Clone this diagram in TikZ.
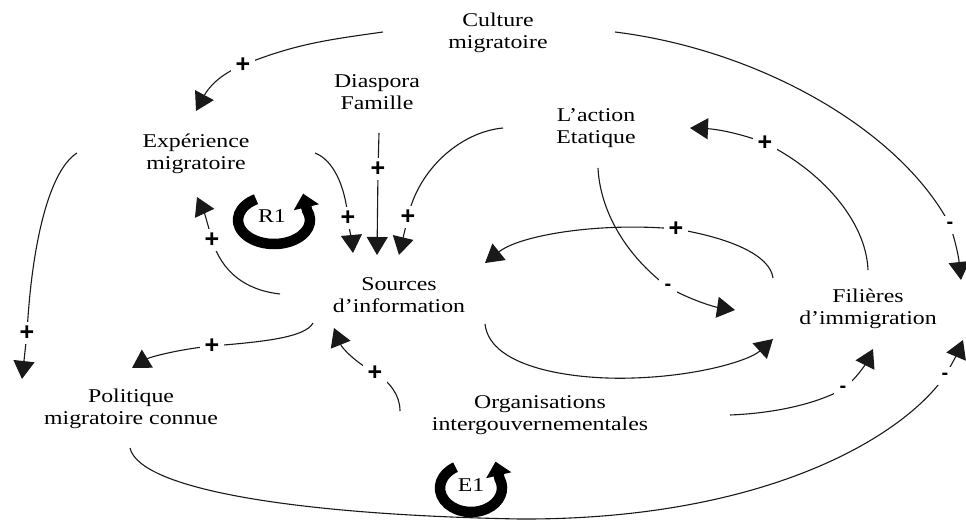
\documentclass[tikz,border=0pt]{standalone}
\usepackage{fontspec}
\setmainfont{Liberation Serif}[FakeStretch=1.22]
\newfontfamily\signfont{Liberation Sans}
\usetikzlibrary{arrows.meta}
\begin{document}
\begin{tikzpicture}[x=1pt,y=1pt,
  lbl/.style={align=center, font=\fontsize{19.5}{22}\selectfont, inner sep=0pt},
  conn/.style={line width=1.1pt, draw=black!90, -{Triangle[length=18pt,width=21pt]}},
  sgn/.style={font=\signfont\bfseries\fontsize{25}{25}\selectfont, fill=white, inner xsep=5pt, inner ysep=4pt},
  neg/.style={font=\signfont\bfseries\fontsize{20}{20}\selectfont, fill=white, minimum width=18pt, minimum height=18pt, inner sep=0pt},
  ring/.style={line width=10.5pt, -{Triangle[length=14pt,width=25pt]}}]
\useasboundingbox (0,0) rectangle (966,-522);

% texts
\node[lbl] (cult) at (498,-33) {Culture\\migratoire};
\node[lbl] (dias) at (377,-92) {Diaspora\\Famille};
\node[lbl] (expe) at (196,-154) {Expérience\\migratoire};
\node[lbl] (acti) at (596,-128) {L’action\\Etatique};
\node[lbl] (sour) at (399,-295) {Sources\\d’information};
\node[lbl] (fili) at (868,-309) {Filières\\d’immigration};
\node[lbl] (poli) at (131,-409) {Politique\\migratoire connue};
\node[lbl] (orga) at (540,-415) {Organisations\\intergouvernementales};

% connector ends
\coordinate (c1s) at (383,-32);  \coordinate (c1e) at (196,-111);
\coordinate (c2s) at (615,-32);  \coordinate (c2e) at (961,-280);
\coordinate (c3s) at (77,-153);  \coordinate (c3e) at (22,-379);
\coordinate (c4s) at (315,-153); \coordinate (c4e) at (353,-253);
\coordinate (c5s) at (379,-133); \coordinate (c5e) at (377,-255);
\coordinate (c6s) at (503,-128); \coordinate (c6e) at (399,-255);
\coordinate (c7s) at (280,-294); \coordinate (c7e) at (197,-197);
\coordinate (c8s) at (313,-323); \coordinate (c8e) at (132,-368);
\coordinate (c9s) at (400,-411); \coordinate (c9e) at (334,-328);
\coordinate (c10s) at (598,-168); \coordinate (c10e) at (735,-310);
\coordinate (c11s) at (773,-278); \coordinate (c11e) at (485,-263);
\coordinate (c12s) at (485,-324); \coordinate (c12e) at (773,-339);
\coordinate (c13s) at (868,-270); \coordinate (c13e) at (690,-128);
\coordinate (c14s) at (730,-415); \coordinate (c14e) at (873,-349);
\coordinate (c15s) at (130,-448); \coordinate (c15e) at (963,-340);

% connectors
\draw[conn] (c1s) to[out=188,in=22] (243,-65) node[sgn]{+} to[out=202,in=62] (c1e);
\draw[conn] (c2s) .. controls (760,-50) and (900,-130) .. (950,-225) node[neg]{-} to[out=-72,in=96] (c2e);
\draw[conn] (c3s) .. controls (50,-170) and (32,-240) .. (27,-333) node[sgn]{+} -- (c3e);
\draw[conn] (c4s) .. controls (333,-160) and (345,-185) .. (348,-218) node[sgn]{+} to[out=-85,in=95] (c4e);
\draw[conn] (c5s) -- (378,-169) node[sgn]{+} -- (c5e);
\draw[conn] (c6s) .. controls (460,-132) and (418,-170) .. (408,-217) node[sgn]{+} -- (c6e);
\draw[conn] (c7s) .. controls (245,-290) and (222,-272) .. (212,-240) node[sgn]{+} to[out=105,in=-65] (c7e);
\draw[conn] (c8s) .. controls (305,-338) and (260,-342) .. (212,-346) node[sgn]{+} .. controls (180,-349) and (150,-357) .. (c8e);
\draw[conn] (c9s) .. controls (400,-395) and (390,-382) .. (375,-373) node[sgn]{+} .. controls (355,-362) and (342,-348) .. (c9e);
\draw[conn] (c10s) .. controls (600,-210) and (625,-255) .. (668,-287) node[neg]{-} .. controls (690,-300) and (715,-307) .. (c10e);
\draw[conn] (c11s) .. controls (770,-255) and (730,-238) .. (676,-229) node[sgn]{+} .. controls (600,-222) and (520,-235) .. (c11e);
\draw[conn] (c12s) .. controls (490,-370) and (580,-380) .. (633,-378) .. controls (700,-376) and (750,-360) .. (c12e);
\draw[conn] (c13s) .. controls (866,-220) and (820,-170) .. (765,-143) node[sgn]{+} .. controls (740,-133) and (715,-129) .. (c13e);
\draw[conn] (c14s) .. controls (780,-413) and (820,-402) .. (843,-389) node[neg]{-} .. controls (855,-380) and (865,-365) .. (c14e);
\draw[conn] (c15s) .. controls (140,-490) and (300,-515) .. (520,-519) .. controls (760,-520) and (900,-440) .. (945,-376) node[neg]{-} .. controls (953,-362) and (958,-352) .. (c15e);

% loop symbols
\draw[ring] (274,-220) ++(120:36 and 24) arc[start angle=120, end angle=383, x radius=36, y radius=24] -- ++(-4,17);
\node[lbl] (r1) at (272,-216) {R1};
\draw[ring] (471,-488) ++(120:31 and 24) arc[start angle=120, end angle=383, x radius=31, y radius=24] -- ++(-4,17);
\node[lbl] (e1) at (471,-485) {E1};
\end{tikzpicture}
\end{document}
